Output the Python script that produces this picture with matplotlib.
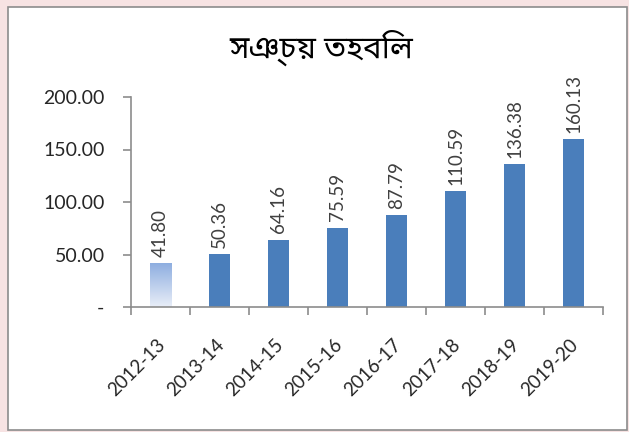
import matplotlib
matplotlib.use("Agg")
import matplotlib.pyplot as plt
from matplotlib.patches import Rectangle
from matplotlib.colors import LinearSegmentedColormap
from matplotlib.transforms import ScaledTranslation
import numpy as np

categories = ["2012-13", "2013-14", "2014-15", "2015-16", "2016-17", "2017-18", "2018-19", "2019-20"]
values = [41.80, 50.36, 64.16, 75.59, 87.79, 110.59, 136.38, 160.13]
value_labels = ["41.80", "50.36", "64.16", "75.59", "87.79", "110.59", "136.38", "160.13"]
yticks = [0, 50, 100, 150, 200]
ytick_labels = ["-", "50.00", "100.00", "150.00", "200.00"]
title = "সঞ্চ\u09df তহবিল"

fig = plt.figure(figsize=(6.29, 4.32), dpi=100, facecolor="#f7e3e3")
fig.patches.append(Rectangle((8/629, 1 - 430/432), 619/629, 423/432, transform=fig.transFigure,
                             facecolor="white", edgecolor="#8c8c8c", linewidth=1.2, zorder=-10))
ax = fig.add_axes([131/629, 1 - 307/432, 472/629, 210/432])
ax.set_facecolor("none")

x = np.arange(len(categories))
bars = ax.bar(x, values, width=0.37, color="#4a7ebb", zorder=2)
# gradient on first bar
b0 = bars[0]
b0.set_facecolor("none")
grad = np.linspace(0, 1, 256).reshape(-1, 1)
cmap = LinearSegmentedColormap.from_list("g", ["#e9eef8", "#8eaee0"])
bx = b0.get_x()
im = ax.imshow(grad, extent=[bx, bx + b0.get_width(), 0, values[0]], origin="lower",
               cmap=cmap, aspect="auto", zorder=2)
im.set_clip_path(b0)

font = "Lato"
for xi, v, lab in zip(x, values, value_labels):
    ax.annotate(lab, (xi, v), xytext=(0, 4.5), textcoords="offset points",
                rotation=90, ha="center", va="bottom", fontsize=13.5,
                color="#404040", family=font)

ax.set_xlim(-0.5, len(categories) - 0.5)
ax.set_ylim(0, 200)
ax.set_yticks(yticks)
ax.set_yticklabels(ytick_labels, family=font, fontsize=14, color="#262626")
ax.set_xticks(x)
ax.set_xticklabels(categories, rotation=45, ha="right", rotation_mode="anchor",
                   family=font, fontsize=13.5, color="#262626")
ax.tick_params(axis="x", length=0, pad=21)
shift = ScaledTranslation(-4/100, 0, fig.dpi_scale_trans)
for lbl in ax.get_xticklabels():
    lbl.set_transform(lbl.get_transform() + shift)
ax.set_xticks(np.arange(len(categories) + 1) - 0.5, minor=True)
ax.tick_params(axis="x", which="minor", length=6, color="#8c8c8c", width=1.2)
ax.tick_params(axis="y", length=6, color="#8c8c8c", width=1.2, pad=13)
for s in ["top", "right"]:
    ax.spines[s].set_visible(False)
for s in ["left", "bottom"]:
    ax.spines[s].set_color("#8c8c8c")
    ax.spines[s].set_linewidth(1.2)

fig.text(321/629, 1 - 48/432, title, ha="center", va="center", fontsize=22.5,
         fontweight="heavy", family=["Noto Sans Bengali", "DejaVu Sans"])

fig.savefig("out.png", dpi=100, facecolor=fig.get_facecolor())
